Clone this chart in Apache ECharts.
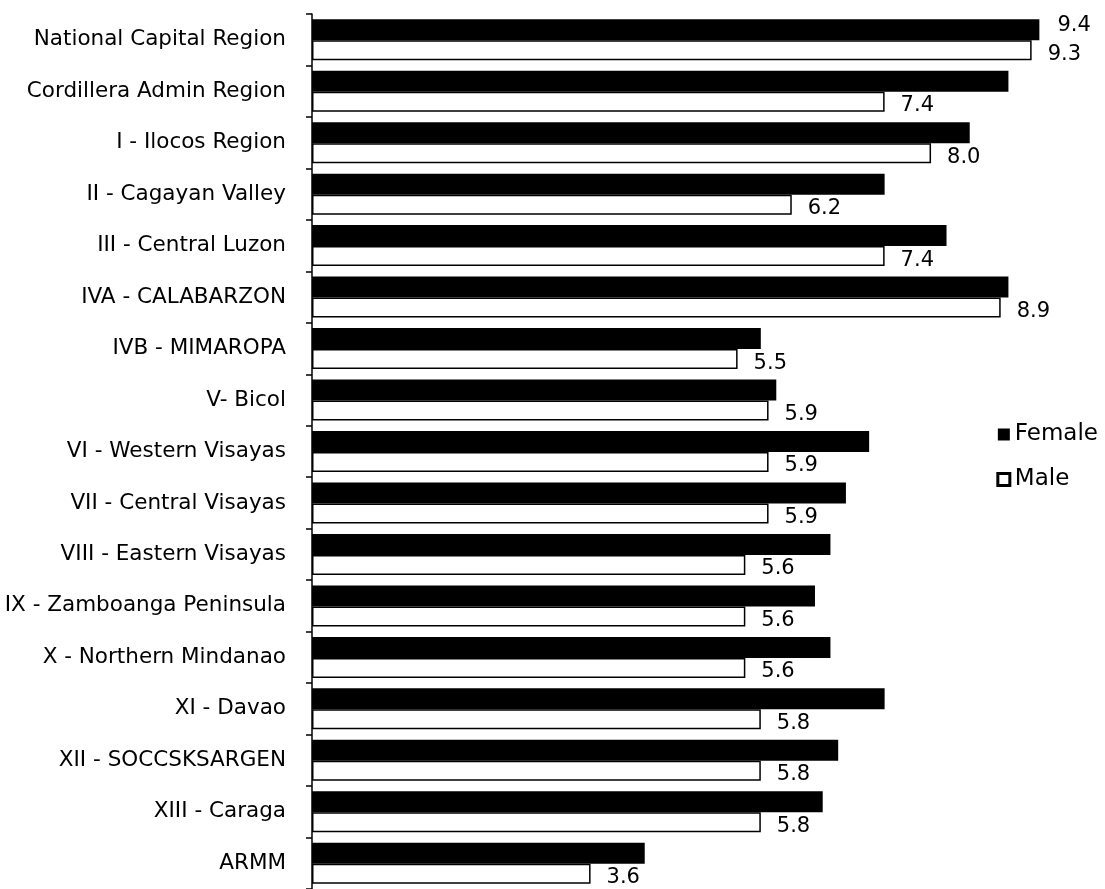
<!DOCTYPE html>
<html><head><meta charset="utf-8">
<script src="https://cdn.jsdelivr.net/npm/echarts@6/dist/echarts.min.js"></script>
<style>html,body{margin:0;padding:0;background:#fff}#c{width:1105px;height:889px}</style>
</head><body><div id="c"></div>
<script>
const categories = ["National Capital Region","Cordillera Admin Region","I - Ilocos Region","II - Cagayan Valley","III - Central Luzon","IVA - CALABARZON","IVB - MIMAROPA","V- Bicol","VI - Western Visayas","VII - Central Visayas","VIII - Eastern Visayas","IX - Zamboanga Peninsula","X - Northern Mindanao","XI - Davao","XII - SOCCSKSARGEN","XIII - Caraga","ARMM"];
const female = [9.4,9.0,8.5,7.4,8.2,9.0,5.8,6.0,7.2,6.9,6.7,6.5,6.7,7.4,6.8,6.6,4.3];
const male = [9.3,7.4,8.0,6.2,7.4,8.9,5.5,5.9,5.9,5.9,5.6,5.6,5.6,5.8,5.8,5.8,3.6];
const femaleLabelShown = [true,false,false,false,false,false,false,false,false,false,false,false,false,false,false,false,false];

const font = '"DejaVu Sans", sans-serif';
const chart = echarts.init(document.getElementById('c'));
chart.setOption({
  animation:false,
  backgroundColor:'#fff',
  legend:{
    orient:'vertical', right:2, top:418, itemGap:22, itemWidth:12, itemHeight:12,
    textStyle:{fontFamily:font, fontSize:23, color:'#000'},
    data:[{name:'Female', icon:'rect'},{name:'Male', icon:'rect', itemStyle:{borderWidth:3}}]
  },
  grid:{left:312, top:14, width:780, height:884, containLabel:false},
  xAxis:{type:'value', min:0, max:10.08, show:false},
  yAxis:{type:'category', inverse:true, data:categories,
    axisLine:{show:true, lineStyle:{color:'#000', width:1.5}},
    axisTick:{show:true, length:6, lineStyle:{color:'#000', width:1.5}},
    axisLabel:{fontFamily:font, fontSize:21.5, color:'#000', margin:26},
    splitLine:{show:false}
  },
  series:[
    {name:'Female', type:'bar', data:female.map((v,i)=>({value:v, label:{show:femaleLabelShown[i]}})),
     barWidth:21, barGap:'0%',
     itemStyle:{color:'#000'},
     label:{position:'right', distance:18, offset:[0,-4], fontFamily:font, fontSize:21, color:'#000'}
    },
    {name:'Male', type:'bar', data:male, barWidth:20,
     itemStyle:{color:'#fff', borderColor:'#000', borderWidth:1.5},
     label:{show:true, position:'right', distance:16, offset:[0,4], fontFamily:font, fontSize:21, color:'#000',
       formatter:p=>p.value.toFixed(1)}
    }
  ]
});
</script></body></html>
